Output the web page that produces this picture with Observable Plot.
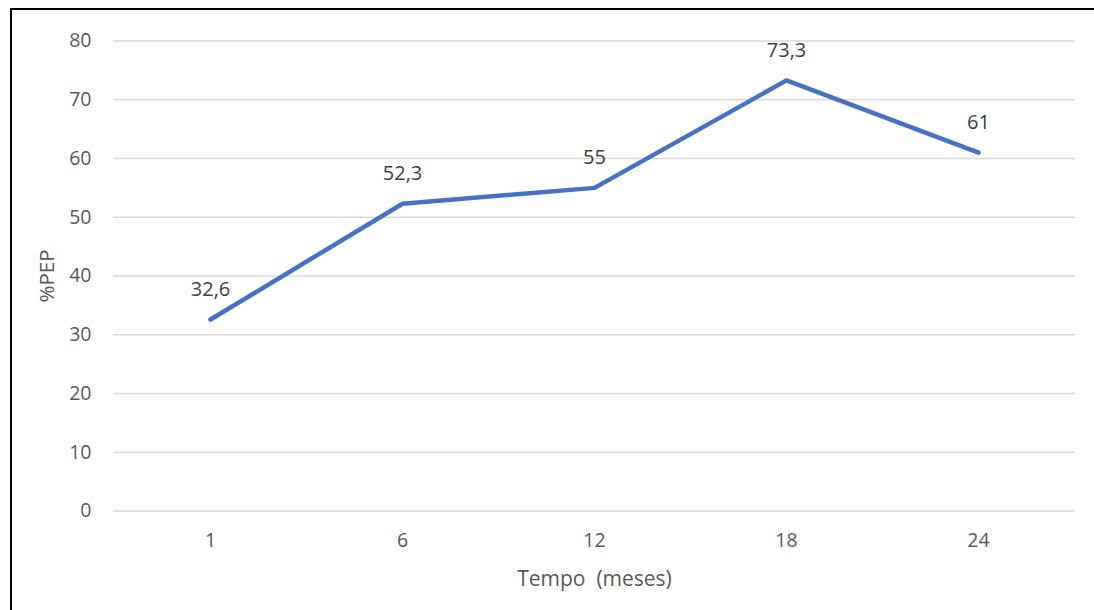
<!DOCTYPE html>
<html>
<head>
<meta charset="utf-8">
<script src="https://cdn.jsdelivr.net/npm/d3@7"></script>
<script src="https://cdn.jsdelivr.net/npm/@observablehq/plot@0.6"></script>
<style>
  html, body { margin: 0; padding: 0; background: #fff; }
  #wrap { position: relative; width: 1094px; height: 610px; overflow: hidden; }
  #frame { position: absolute; left: 10px; top: 8px; right: -10px; bottom: -10px;
           border-left: 2px solid #000; border-top: 2px solid #000; pointer-events: none; }
  #chart svg { display: block; }
  #chart svg text { white-space: pre; }
</style>
</head>
<body>
<div id="wrap"><div id="chart"></div><div id="frame"></div></div>
<script>
// Follow-up months and %PEP at each visit
const months = ["1", "6", "12", "18", "24"];
const pep = [32.6, 52.3, 55, 73.3, 61];
const yTicks = [0, 10, 20, 30, 40, 50, 60, 70, 80];
const xTitle = "Tempo  (meses)";
const yTitle = "%PEP";

const rows = months.map((m, i) => ({ month: m, value: pep[i] }));
const fmt = v => String(v).replace(".", ",");
const font = "'Open Sans', Lato, sans-serif";

const chart = Plot.plot({
  width: 1094,
  height: 610,
  marginLeft: 113,
  marginRight: 19,
  marginTop: 40.5,
  marginBottom: 99.5,
  style: { fontFamily: font, fontSize: "19.5px", color: "#595959", background: "#fff" },
  x: { type: "point", domain: months, padding: 0.5 },
  y: { domain: [0, 80] },
  marks: [
    Plot.gridY(yTicks, { stroke: "#d9d9d9", strokeOpacity: 1, strokeWidth: 1.3 }),
    Plot.axisY(yTicks, {
      tickSize: 0, tickPadding: 22, fill: "#595959", fontSize: 19.5, label: null
    }),
    Plot.axisX(months, {
      tickSize: 0, tickPadding: 22, fill: "#595959", fontSize: 19.5, label: null
    }),
    // axis titles
    Plot.text([yTitle], {
      frameAnchor: "left", dx: -66, rotate: -90, text: d => d, textAnchor: "middle",
      fill: "#595959", fontSize: 20.5, lineAnchor: "middle"
    }),
    Plot.text([xTitle], {
      frameAnchor: "bottom", dy: 68.5, text: d => d, textAnchor: "middle",
      fill: "#595959", fontSize: 21, lineAnchor: "middle"
    }),
    Plot.line(rows, {
      x: "month", y: "value", stroke: "#4472C4", strokeWidth: 4.5,
      strokeLinecap: "round", strokeLinejoin: "miter"
    }),
    // value labels above each point
    Plot.text(rows, {
      x: "month", y: "value", text: d => fmt(d.value), dy: -30,
      fill: "#404040", fontSize: 20, lineAnchor: "middle"
    })
  ]
});
document.getElementById("chart").append(chart);
</script>
</body>
</html>
